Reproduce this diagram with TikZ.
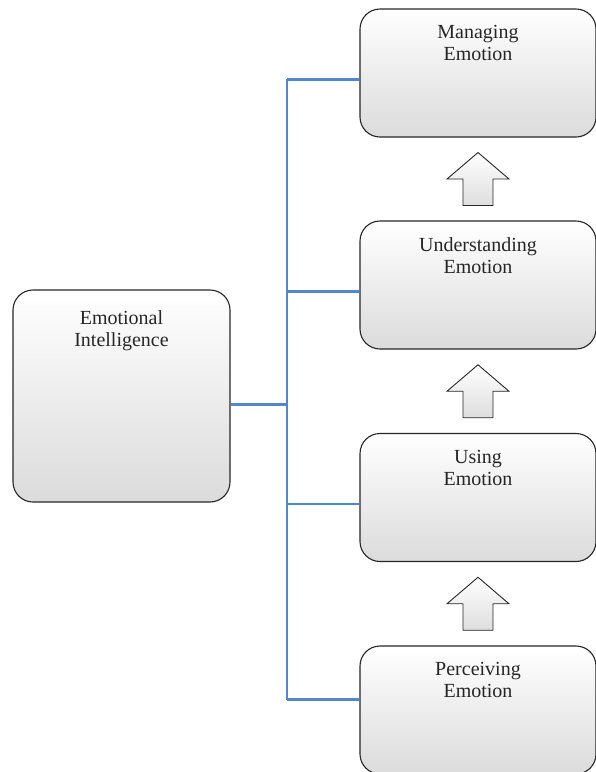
\documentclass[tikz,border=0pt]{standalone}
\usepackage{fontspec}
\setmainfont{Liberation Serif}
\usetikzlibrary{calc,positioning}
\definecolor{linkblue}{RGB}{84,134,204}

\begin{document}
\begin{tikzpicture}[x=1pt,y=1pt,
		emobox/.style={rectangle, draw=black!85, line width=1.1pt, rounded corners=20pt, top color=white, bottom color=black!14, minimum width=236pt, minimum height=128pt, inner sep=0pt},
		boxtext/.style={align=center, font=\fontsize{20}{22}\selectfont, text=black!85, inner sep=0pt},
		link/.style={draw=linkblue, line width=2.6pt},
		uparrow/.pic={\path[draw=black!85, line width=0.9pt, top color=white, bottom color=black!13] (-15,-26.5) -- (-15,0) -- (-31,0) -- (0,26.5) -- (31,0) -- (15,0) -- (15,-26.5) -- cycle;}]
	\useasboundingbox (0,0) rectangle (596,-772);
	
	\node[emobox, minimum width=217pt, minimum height=212pt] (ei) at (121.5,-396) {};
	\node[boxtext, below=21pt of ei.north] (eit) {Emotional\\Intelligence};
	
	\node[emobox] (man) at (478,-73) {};
	\node[boxtext, below=17pt of man.north] (mant) {Managing\\Emotion};
	
	\node[emobox] (und) at (478,-285) {};
	\node[boxtext, below=17pt of und.north] (undt) {Understanding\\Emotion};
	
	\node[emobox] (use) at (478,-497.5) {};
	\node[boxtext, below=17pt of use.north] (uset) {Using\\Emotion};
	
	\node[emobox] (per) at (478,-710) {};
	\node[boxtext, below=17pt of per.north] (pert) {Perceiving\\Emotion};
	
	\pic at ($(man.south)!0.5!(und.north)$) {uparrow};
	\pic at ($(und.south)!0.5!(use.north)$) {uparrow};
	\pic at ($(use.south)!0.5!(per.north)$) {uparrow};
	
	\coordinate (bus) at (287,0);
	\coordinate (ei-out) at ($(ei.north east)!0.54!(ei.south east)$);
	\foreach \b/\f in {man/0.55, und/0.55, use/0.55, per/0.42}{
		\coordinate (\b-in) at ($(\b.north west)!\f!(\b.south west)$);
		\draw[link] (bus |- \b-in) -- (\b-in);
	}
	\draw[link] (ei-out) -- (bus |- ei-out);
	\draw[link] (bus |- man-in) -- (bus |- per-in);
\end{tikzpicture}
\end{document}
